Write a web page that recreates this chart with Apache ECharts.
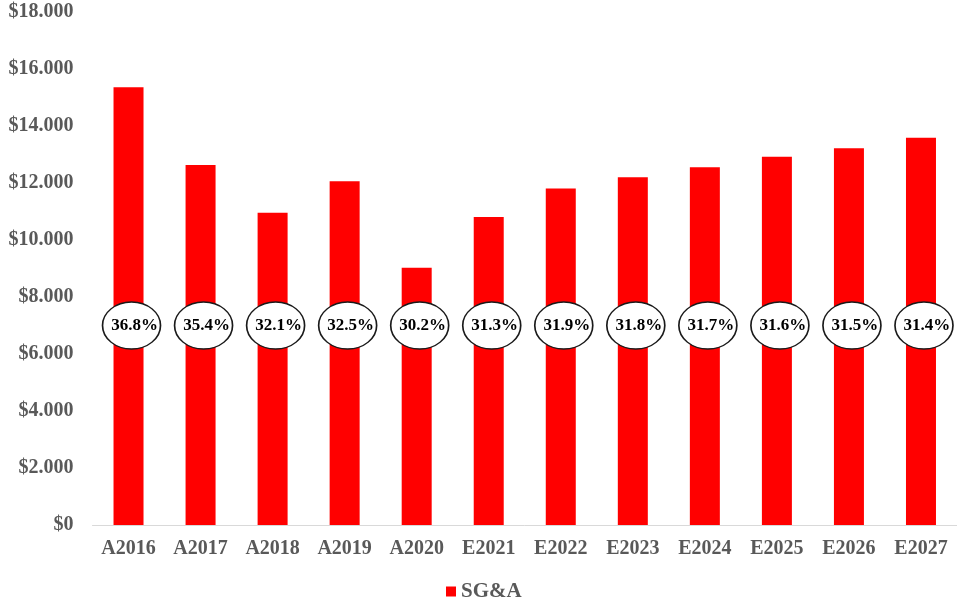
<!DOCTYPE html>
<html>
<head>
<meta charset="utf-8">
<script src="https://cdn.jsdelivr.net/npm/echarts@6/dist/echarts.min.js"></script>
<style>
  html, body { margin: 0; padding: 0; background: #fff; }
  #chart { width: 957px; height: 602px; }
</style>
</head>
<body>
<div id="chart"></div>
<script>
// Fiscal years (A = actual, E = estimate)
const years = ['A2016', 'A2017', 'A2018', 'A2019', 'A2020', 'E2021', 'E2022', 'E2023', 'E2024', 'E2025', 'E2026', 'E2027'];
// SG&A expense
const sgaValues = [15360, 12630, 10960, 12060, 9030, 10810, 11810, 12200, 12550, 12920, 13220, 13590];
// SG&A as a share of revenue
const sgaMargin = ['36.8%', '35.4%', '32.1%', '32.5%', '30.2%', '31.3%', '31.9%', '31.8%', '31.7%', '31.6%', '31.5%', '31.4%'];
// Height on the value axis where the margin badges sit
const badgeLevel = 7000;
// Value-axis ticks
const yMin = 0, yMax = 18000, yStep = 2000;

const fontFamily = '"Liberation Serif", "Times New Roman", serif';

function formatDollar(v) {
  if (v === 0) return '$0';
  return '$' + String(v).replace(/\B(?=(\d{3})+(?!\d))/g, '.');
}

const chart = echarts.init(document.getElementById('chart'));
chart.setOption({
  animation: false,
  backgroundColor: '#ffffff',
  textStyle: { fontFamily: fontFamily },
  legend: {
    data: ['SG&A'],
    top: 581,
    left: 446,
    padding: 0,
    icon: 'rect',
    itemWidth: 10,
    itemHeight: 10,
    itemGap: 6,
    textStyle: { color: '#595959', fontSize: 21, fontWeight: 'bold', fontFamily: fontFamily }
  },
  grid: { left: 92.5, right: -3, top: 12, bottom: 77 },
  xAxis: {
    type: 'category',
    data: years,
    axisLine: { lineStyle: { color: '#d9d9d9', width: 1 } },
    axisTick: { show: false },
    axisLabel: { color: '#595959', fontSize: 20, fontWeight: 'bold', fontFamily: fontFamily, margin: 14, interval: 0 }
  },
  yAxis: {
    type: 'value',
    min: yMin,
    max: yMax,
    interval: yStep,
    splitLine: { show: false },
    axisLine: { show: false },
    axisTick: { show: false },
    axisLabel: { color: '#595959', fontSize: 20, fontWeight: 'bold', fontFamily: fontFamily, margin: 19, formatter: formatDollar }
  },
  series: [
    {
      name: 'SG&A',
      type: 'bar',
      data: sgaValues,
      barWidth: 30,
      itemStyle: { color: '#ff0000' }
    },
    {
      name: 'margin',
      type: 'scatter',
      data: years.map(function () { return badgeLevel; }),
      symbol: 'circle',
      symbolSize: [58, 47],
      symbolOffset: [3, 0],
      itemStyle: { color: '#ffffff', borderColor: '#1a1a1a', borderWidth: 1.5, opacity: 1 },
      label: {
        show: true,
        position: 'inside',
        offset: [3, 0],
        color: '#000000',
        fontSize: 17,
        fontWeight: 'bold',
        fontFamily: fontFamily,
        formatter: function (p) { return sgaMargin[p.dataIndex]; }
      },
      z: 5
    }
  ]
});
</script>
</body>
</html>
